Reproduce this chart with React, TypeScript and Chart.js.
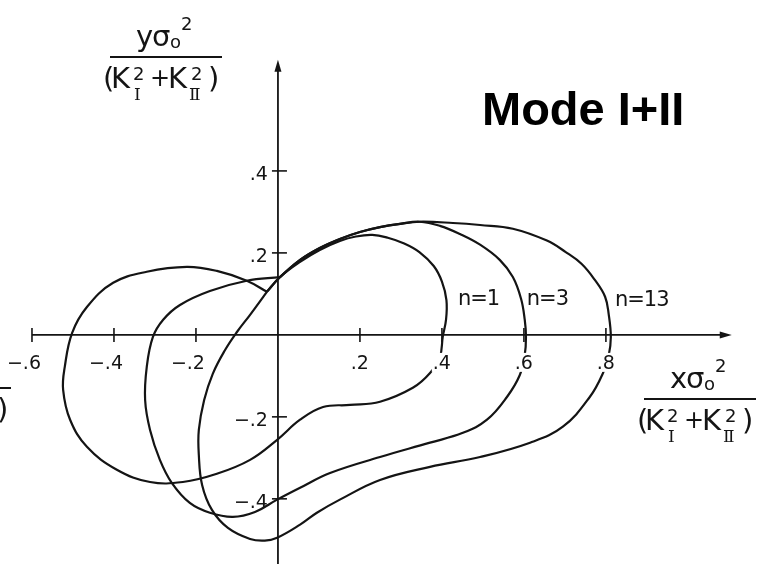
import { useEffect, useRef } from "react";
import { Chart, registerables } from "chart.js";

Chart.register(...registerables);

const CANVAS_W = 758;
const CANVAS_H = 564;
const INK = "#141414";

// Plot window in normalized units  x·σo²/(KI²+KII²),  y·σo²/(KI²+KII²)
const X_MIN = -0.678;
const X_MAX = 1.171;
const Y_MIN = -0.559;
const Y_MAX = 0.817;

// Axis extents (data units)
const X_AXIS_FROM = -0.6;
const X_AXIS_TO = 1.107;
const Y_AXIS_TO = 0.671;

const xTickValues = [-0.6, -0.4, -0.2, 0.2, 0.4, 0.6, 0.8];
const xTickLabels = ["\u2212.6", "\u2212.4", "\u2212.2", ".2", ".4", ".6", ".8"];
const yTickValues = [0.4, 0.2, -0.2, -0.4];
const yTickLabels = [".4", ".2", "\u2212.2", "\u2212.4"];

const curveLabels = ["n=1", "n=3", "n=13"];

// Plastic zone boundary, n = 1
const n1X = [
  -0.027, 0.005, 0.054, 0.102, 0.151, 0.190, 0.230, 0.268, 0.308, 0.345,
  0.380, 0.400, 0.411, 0.410, 0.402, 0.395, 0.371, 0.329, 0.249, 0.176,
  0.110, 0.054, -0.002, -0.068, -0.149, -0.232, -0.312, -0.393, -0.466, -0.507,
  -0.524, -0.520, -0.502, -0.466, -0.402, -0.320, -0.222, -0.149, -0.076, -0.027,
];
const n1Y = [
  0.105, 0.141, 0.178, 0.207, 0.229, 0.240, 0.244, 0.237, 0.223, 0.202,
  0.168, 0.130, 0.085, 0.037, -0.005, -0.054, -0.093, -0.129, -0.163, -0.171,
  -0.176, -0.207, -0.256, -0.305, -0.339, -0.359, -0.359, -0.329, -0.273, -0.207,
  -0.134, -0.078, 0.005, 0.068, 0.127, 0.154, 0.166, 0.156, 0.132, 0.105,
];

// Plastic zone boundary, n = 3
const n3X = [
  0.005, 0.054, 0.102, 0.151, 0.200, 0.249, 0.298, 0.346, 0.395, 0.444,
  0.493, 0.541, 0.573, 0.593, 0.602, 0.605, 0.602, 0.590, 0.559, 0.510,
  0.451, 0.371, 0.249, 0.127, 0.054, -0.002, -0.056, -0.110, -0.166, -0.215,
  -0.259, -0.288, -0.312, -0.324, -0.320, -0.305, -0.280, -0.239, -0.166, -0.076,
  0.005,
];
const n3Y = [
  0.141, 0.183, 0.212, 0.234, 0.251, 0.263, 0.271, 0.276, 0.266, 0.246,
  0.220, 0.183, 0.141, 0.088, 0.037, -0.005, -0.049, -0.098, -0.151, -0.207,
  -0.239, -0.263, -0.298, -0.337, -0.373, -0.402, -0.432, -0.444, -0.434, -0.410,
  -0.361, -0.305, -0.232, -0.159, -0.078, -0.005, 0.037, 0.073, 0.107, 0.132,
  0.141,
];

// Plastic zone boundary, n = 13
const n13X = [
  -0.027, -0.068, -0.100, -0.129, -0.159, -0.180, -0.193, -0.193, -0.185, -0.161,
  -0.122, -0.068, -0.032, -0.002, 0.054, 0.095, 0.151, 0.249, 0.371, 0.493,
  0.615, 0.695, 0.761, 0.793, 0.807, 0.812, 0.807, 0.798, 0.773, 0.741,
  0.702, 0.656, 0.573, 0.493, 0.427, 0.346, 0.298, 0.249, 0.200, 0.151,
  0.102, 0.054, 0.005, -0.027,
];
const n13Y = [
  0.105, 0.049, 0.007, -0.037, -0.095, -0.159, -0.232, -0.293, -0.366, -0.427,
  -0.471, -0.498, -0.502, -0.495, -0.463, -0.434, -0.402, -0.354, -0.322, -0.298,
  -0.263, -0.224, -0.151, -0.093, -0.049, -0.005, 0.049, 0.093, 0.134, 0.173,
  0.202, 0.230, 0.259, 0.268, 0.273, 0.276, 0.271, 0.263, 0.251, 0.234,
  0.212, 0.183, 0.141, 0.105,
];

const seriesX = [n1X, n3X, n13X];
const seriesY = [n1Y, n3Y, n13Y];

// Where each "n=" label sits (data units: left edge, baseline)
const labelAnchorX = [0.439, 0.607, 0.822];
const labelAnchorY = [0.073, 0.073, 0.071];

function drawFraction(ctx: CanvasRenderingContext2D, numVar: string, cx: number, barY: number) {
  const big = '29px "DejaVu Sans"';
  const small = '18px "DejaVu Sans"';
  ctx.fillStyle = INK;
  ctx.textAlign = "left";
  ctx.textBaseline = "alphabetic";

  // numerator
  ctx.font = big;
  ctx.fillText(numVar, cx - 30, barY - 11);
  ctx.fillText("\u03c3", cx - 14, barY - 11);
  ctx.font = small;
  ctx.fillText("o", cx + 4, barY - 9);
  ctx.fillText("2", cx + 15, barY - 27);

  // fraction bar
  ctx.strokeStyle = INK;
  ctx.lineWidth = 2.2;
  ctx.beginPath();
  ctx.moveTo(cx - 56, barY);
  ctx.lineTo(cx + 56, barY);
  ctx.stroke();

  // denominator
  const base = barY + 31;
  ctx.font = big;
  ctx.fillText("(", cx - 63, base);
  ctx.fillText("K", cx - 55, base);
  ctx.fillText("K", cx + 2, base);
  ctx.fillText(")", cx + 42, base);
  ctx.font = '24px "DejaVu Sans"';
  ctx.textAlign = "center";
  ctx.fillText("+", cx - 6, base - 2);
  ctx.textAlign = "left";
  ctx.font = small;
  ctx.fillText("2", cx - 33, barY + 23);
  ctx.fillText("2", cx + 25, barY + 23);
  ctx.font = '17px "DejaVu Serif"';
  ctx.fillText("\u2160", cx - 32, barY + 43);
  ctx.fillText("\u2161", cx + 23, barY + 43);
}

const figurePlugin = {
  id: "figureDecor",
  beforeDatasetsDraw(chart: any) {
    const { ctx } = chart;
    const xs = chart.scales.x;
    const ys = chart.scales.y;
    const ox = xs.getPixelForValue(0);
    const oy = ys.getPixelForValue(0);
    ctx.save();
    ctx.strokeStyle = INK;
    ctx.fillStyle = INK;
    ctx.lineWidth = 1.8;

    // horizontal axis with arrow
    const xa = xs.getPixelForValue(X_AXIS_FROM);
    const xb = xs.getPixelForValue(X_AXIS_TO);
    ctx.beginPath();
    ctx.moveTo(xa, oy);
    ctx.lineTo(xb - 6, oy);
    ctx.stroke();
    ctx.beginPath();
    ctx.moveTo(xb, oy);
    ctx.lineTo(xb - 12, oy - 3.5);
    ctx.lineTo(xb - 12, oy + 3.5);
    ctx.closePath();
    ctx.fill();

    // vertical axis with arrow
    const yTop = ys.getPixelForValue(Y_AXIS_TO);
    ctx.beginPath();
    ctx.moveTo(ox, chart.height);
    ctx.lineTo(ox, yTop + 6);
    ctx.stroke();
    ctx.beginPath();
    ctx.moveTo(ox, yTop);
    ctx.lineTo(ox - 3.5, yTop + 12);
    ctx.lineTo(ox + 3.5, yTop + 12);
    ctx.closePath();
    ctx.fill();

    // tick marks
    ctx.lineWidth = 1.6;
    xTickValues.forEach((v) => {
      const px = xs.getPixelForValue(v);
      ctx.beginPath();
      ctx.moveTo(px, oy - 7);
      ctx.lineTo(px, oy + 7);
      ctx.stroke();
    });
    yTickValues.forEach((v) => {
      const py = ys.getPixelForValue(v);
      ctx.beginPath();
      ctx.moveTo(ox - 6, py);
      ctx.lineTo(ox + 9, py);
      ctx.stroke();
    });
    ctx.restore();
  },
  afterDatasetsDraw(chart: any) {
    const { ctx } = chart;
    const xs = chart.scales.x;
    const ys = chart.scales.y;
    const ox = xs.getPixelForValue(0);
    const oy = ys.getPixelForValue(0);
    ctx.save();
    ctx.textBaseline = "alphabetic";

    // tick labels
    ctx.font = '19px "DejaVu Sans"';
    ctx.textAlign = "right";
    xTickValues.forEach((v, i) => {
      const px = xs.getPixelForValue(v);
      const tx = px + 9;
      const ty = oy + 34;
      const w = ctx.measureText(xTickLabels[i]).width;
      ctx.fillStyle = "#ffffff";
      ctx.fillRect(tx - w - 1, ty - 16, w + 2, 19);
      ctx.fillStyle = INK;
      ctx.fillText(xTickLabels[i], tx, ty);
    });
    yTickValues.forEach((v, i) => {
      const py = ys.getPixelForValue(v);
      ctx.fillStyle = INK;
      ctx.fillText(yTickLabels[i], ox - 10, py + 9);
    });

    // curve labels
    ctx.textAlign = "left";
    ctx.font = '21px "DejaVu Sans"';
    (ctx as any).letterSpacing = "-1px";
    curveLabels.forEach((t, i) => {
      ctx.fillStyle = INK;
      ctx.fillText(t, xs.getPixelForValue(labelAnchorX[i]), ys.getPixelForValue(labelAnchorY[i]));
    });
    (ctx as any).letterSpacing = "0px";

    // axis titles
    drawFraction(ctx, "y", 166, 57);
    drawFraction(ctx, "x", 700, 399);
    drawFraction(ctx, "x", -45, 388);

    // figure title
    ctx.fillStyle = "#000000";
    ctx.textAlign = "left";
    ctx.font = 'bold 47px "Liberation Sans"';
    ctx.fillText("Mode I+II", 482, 125);
    ctx.restore();
  },
};

export default function App() {
  const canvasRef = useRef<HTMLCanvasElement | null>(null);

  useEffect(() => {
    const canvas = canvasRef.current;
    if (!canvas) return;
    const datasets = curveLabels.map((label, i) => ({
      label,
      data: seriesX[i].map((xv, k) => ({ x: xv, y: seriesY[i][k] })),
      showLine: true,
      fill: false,
      borderColor: INK,
      borderWidth: 2.2,
      pointRadius: 0,
      pointHoverRadius: 0,
      tension: 0.4,
    }));
    const chart = new Chart(canvas, {
      type: "scatter",
      data: { datasets },
      options: {
        animation: false,
        responsive: false,
        maintainAspectRatio: false,
        layout: { padding: 0 },
        plugins: {
          legend: { display: false },
          tooltip: { enabled: false },
          title: { display: false },
        },
        scales: {
          x: { type: "linear", min: X_MIN, max: X_MAX, display: false },
          y: { type: "linear", min: Y_MIN, max: Y_MAX, display: false },
        },
      },
      plugins: [figurePlugin],
    });
    return () => chart.destroy();
  }, []);

  return (
    <div
      style={{
        position: "absolute",
        left: 0,
        top: 0,
        width: CANVAS_W,
        height: CANVAS_H,
        background: "#ffffff",
      }}
    >
      <canvas ref={canvasRef} width={CANVAS_W} height={CANVAS_H} />
    </div>
  );
}
